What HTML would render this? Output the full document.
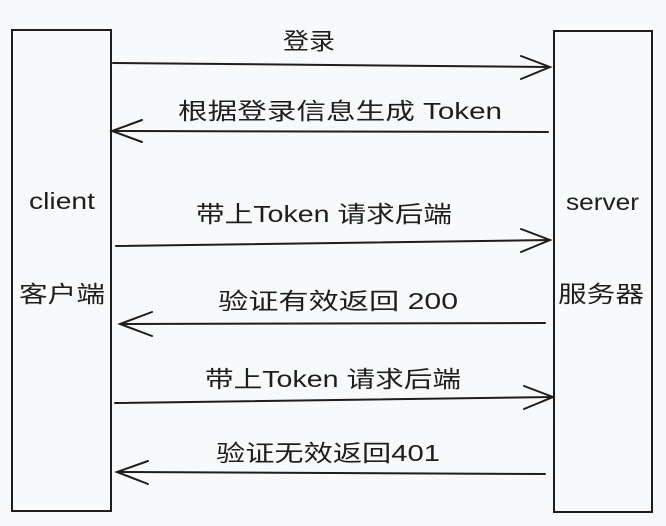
<!DOCTYPE html>
<html><head><meta charset="utf-8"><style>
html,body{margin:0;padding:0;background:#f8f9fa;}
svg{display:block}
text{font-family:"Liberation Sans","Noto Sans CJK SC",sans-serif;font-size:23px;fill:#1e1e1e}
</style></head><body>
<svg width="666" height="526" viewBox="0 0 666 526" xmlns="http://www.w3.org/2000/svg">
<rect width="666" height="526" fill="#f8f9fa"/>
<g fill="none" stroke="#1e1e1e" stroke-width="2" stroke-linecap="round">
<rect x="12" y="30" width="99" height="481"/>
<rect x="554" y="31" width="98" height="481"/>
<path d="M113 63 L550 67 M521 56 L550 67 L521 79"/>
<path d="M548 132 L112 131 M142 120 L112 131 L142 142"/>
<path d="M116 246 L550 240 M521 229 L550 240 L521 252"/>
<path d="M545 323 L120 324 M152 312 L120 324 L152 336"/>
<path d="M115 403 L553 397 M524 386 L553 397 L524 409"/>
<path d="M545 474 L117 472 M148 461 L117 472 L148 484"/>
</g>
<text x="283" y="49" textLength="52" lengthAdjust="spacingAndGlyphs">登录</text>
<text x="178" y="119" textLength="324" lengthAdjust="spacingAndGlyphs">根据登录信息生成 Token</text>
<text x="196" y="222" textLength="256" lengthAdjust="spacingAndGlyphs">带上Token 请求后端</text>
<text x="218" y="309" textLength="240" lengthAdjust="spacingAndGlyphs">验证有效返回 200</text>
<text x="205" y="387" textLength="256" lengthAdjust="spacingAndGlyphs">带上Token 请求后端</text>
<text x="216" y="461" textLength="224" lengthAdjust="spacingAndGlyphs">验证无效返回401</text>
<text x="29" y="209" textLength="66" lengthAdjust="spacingAndGlyphs">client</text>
<text x="19" y="302" textLength="86" lengthAdjust="spacingAndGlyphs">客户端</text>
<text x="566" y="210" textLength="73" lengthAdjust="spacingAndGlyphs">server</text>
<text x="558" y="302" textLength="86" lengthAdjust="spacingAndGlyphs">服务器</text>
</svg>
</body></html>
